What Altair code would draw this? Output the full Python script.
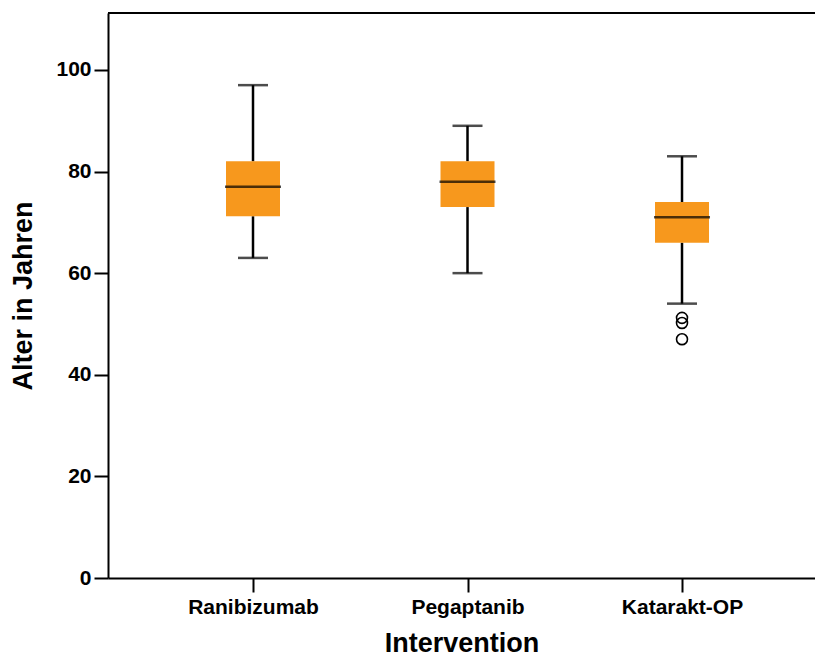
import json
import altair as alt
import pandas as pd

categories = ["Ranibizumab", "Pegaptanib", "Katarakt-OP"]
whisker_low = [63, 60, 54]
q1 = [71.2, 73, 66]
median = [77, 78, 71]
q3 = [82, 82, 74]
whisker_high = [97, 89, 83]
outlier_cat = ["Katarakt-OP", "Katarakt-OP", "Katarakt-OP"]
outlier_val = [51.2, 50.2, 47]

pos = {c: i + 1 for i, c in enumerate(categories)}
box = pd.DataFrame({
    "cat": categories,
    "pos": [pos[c] for c in categories],
    "lo": whisker_low, "q1": q1, "med": median, "q3": q3, "hi": whisker_high,
})
outl = pd.DataFrame({"cat": outlier_cat, "pos": [pos[c] for c in outlier_cat], "val": outlier_val})

W, H = 707, 565
FONT = "Liberation Sans"
label_expr = "datum.value == 1 ? " + json.dumps(categories[0]) + " : datum.value == 2 ? " + json.dumps(categories[1]) + " : " + json.dumps(categories[2])

xscale = alt.Scale(domain=[0.324, 3.62], nice=False, zero=False, padding=0)
yscale = alt.Scale(domain=[0, 111.2], nice=False)

x_enc = alt.X("pos:Q", scale=xscale, title="Intervention",
              axis=alt.Axis(values=[1, 2, 3], labelExpr=label_expr, grid=False,
                            domainColor="black", domainWidth=2, tickColor="black",
                            tickWidth=2, tickSize=14, labelFont=FONT, labelFontSize=21,
                            labelFontWeight="bold", labelColor="black", labelPadding=4,
                            titleFont=FONT, titleFontSize=27, titleFontWeight="bold",
                            titleColor="black", titlePadding=13))
y_axis = alt.Axis(values=[0, 20, 40, 60, 80, 100], grid=False, domainColor="black",
                  domainWidth=2, tickColor="black", tickWidth=2, tickSize=14,
                  labelFont=FONT, labelFontSize=21, labelFontWeight="bold",
                  labelColor="black", labelPadding=3, titleFont=FONT, titleFontSize=27,
                  titleFontWeight="bold", titleColor="black", titlePadding=18)

base = alt.Chart(box)

whisk_lo = base.mark_rule(color="black", strokeWidth=2.5).encode(
    x=x_enc, y=alt.Y("lo:Q", scale=yscale, title="Alter in Jahren", axis=y_axis), y2="q1:Q")
whisk_hi = base.mark_rule(color="black", strokeWidth=2.5).encode(
    x="pos:Q", y="q3:Q", y2="hi:Q")
cap_lo = base.mark_tick(color="black", orient="horizontal", size=30, thickness=2.5).encode(
    x="pos:Q", y="lo:Q")
cap_hi = base.mark_tick(color="black", orient="horizontal", size=30, thickness=2.5).encode(
    x="pos:Q", y="hi:Q")
boxes = base.mark_bar(color="#F7981D", size=54).encode(x="pos:Q", y="q1:Q", y2="q3:Q")
med = base.mark_tick(color="black", orient="horizontal", size=56, thickness=2.5).encode(
    x="pos:Q", y="med:Q")
pts = alt.Chart(outl).mark_point(shape="circle", filled=False, color="black", size=120,
                                 strokeWidth=1.6, opacity=1).encode(x="pos:Q", y="val:Q")
top = alt.Chart(box).mark_rule(color="black", strokeWidth=2).encode(
    x=alt.value(0), x2=alt.value(W), y=alt.value(0))

chart = alt.layer(whisk_lo, whisk_hi, cap_lo, cap_hi, boxes, med, pts, top).properties(
    width=W, height=H, padding={"left": 108, "top": 13, "right": 0, "bottom": 80},
    autosize=alt.AutoSizeParams(type="none"), background="white"
).configure_view(stroke=None)

chart.save("out.html", embed_options={"renderer": "svg", "actions": False})
